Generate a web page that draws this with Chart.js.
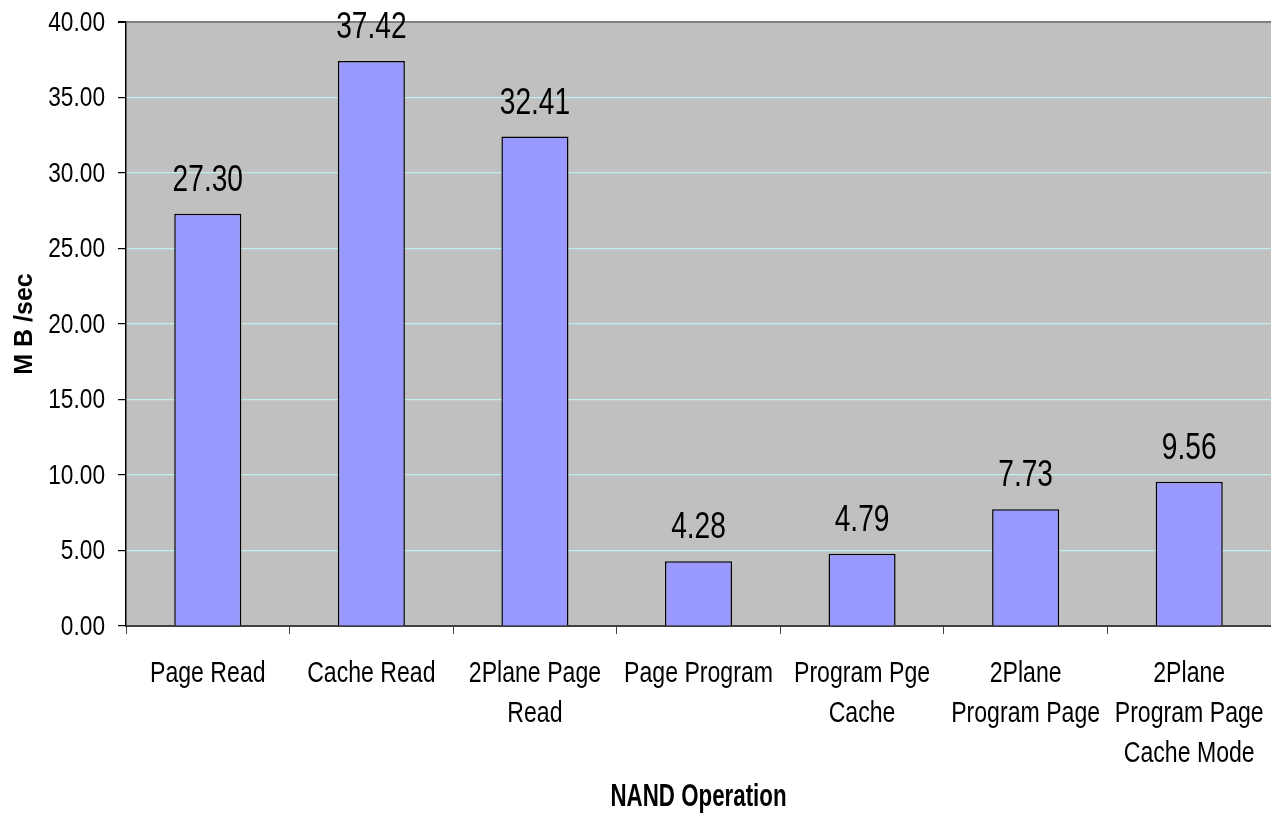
<!DOCTYPE html>
<html>
<head>
<meta charset="utf-8">
<script src="https://cdn.jsdelivr.net/npm/chart.js@4.4.1/dist/chart.umd.min.js"></script>
<style>
html,body{margin:0;padding:0;background:#fff;}
#wrap{width:1271px;height:824px;position:relative;}
</style>
</head>
<body>
<div id="wrap"><canvas id="c" width="1271" height="824"></canvas></div>
<script>
const categories = [
  "Page Read",
  "Cache Read",
  ["2Plane Page", "Read"],
  "Page Program",
  ["Program Pge", "Cache"],
  ["2Plane", "Program Page"],
  ["2Plane", "Program Page", "Cache Mode"]
];
const throughput = [27.30, 37.42, 32.41, 4.28, 4.79, 7.73, 9.56];
const yTicks = [0, 5, 10, 15, 20, 25, 30, 35, 40];
const xTitle = 'NAND Operation';
const yTitle = 'M B /sec';

const SANS = '"Liberation Sans", Arial, sans-serif';

// draw text horizontally condensed (Arial Narrow look)
function narrowText(ctx, text, x, y, sx, align) {
  ctx.save();
  ctx.translate(x, y);
  ctx.scale(sx, 1);
  ctx.textAlign = align;
  ctx.fillText(text, 0, 0);
  ctx.restore();
}

const bgPlugin = {
  id: 'bg',
  beforeDraw(chart) {
    const {ctx, chartArea: a} = chart;
    ctx.save();
    ctx.fillStyle = '#C0C0C0';
    ctx.fillRect(a.left, a.top, a.right - a.left, a.bottom - a.top);
    ctx.restore();
  }
};

const textPlugin = {
  id: 'texts',
  afterDraw(chart) {
    const {ctx} = chart;
    const xs = chart.scales.x, ys = chart.scales.y;
    ctx.save();
    ctx.fillStyle = '#000';

    // y tick labels
    ctx.font = '28px ' + SANS;
    ctx.textBaseline = 'middle';
    yTicks.forEach(v => {
      narrowText(ctx, v.toFixed(2), 105, ys.getPixelForValue(v) + 1, 0.81, 'right');
    });

    // x tick labels
    ctx.font = '30px ' + SANS;
    ctx.textBaseline = 'alphabetic';
    categories.forEach((lab, i) => {
      const lines = Array.isArray(lab) ? lab : [lab];
      const x = xs.getPixelForTick(i);
      lines.forEach((ln, k) => {
        narrowText(ctx, ln, x, 682 + 40 * k, 0.77, 'center');
      });
    });

    // value labels
    const meta = chart.getDatasetMeta(0);
    ctx.font = '37px ' + SANS;
    meta.data.forEach((bar, i) => {
      narrowText(ctx, throughput[i].toFixed(2), bar.x, bar.y - 23, 0.76, 'center');
    });

    // x title
    ctx.font = 'bold 31px ' + SANS;
    narrowText(ctx, xTitle, (chart.chartArea.left + chart.chartArea.right) / 2, 806, 0.72, 'center');

    // y title
    ctx.save();
    ctx.font = 'bold 25px ' + SANS;
    ctx.translate(25, (chart.chartArea.top + chart.chartArea.bottom) / 2);
    ctx.rotate(-Math.PI / 2);
    ctx.textAlign = 'center';
    ctx.textBaseline = 'middle';
    ctx.fillText(yTitle, 0, 0);
    ctx.restore();

    ctx.restore();
  }
};

new Chart(document.getElementById('c'), {
  type: 'bar',
  data: {
    labels: categories,
    datasets: [{
      data: throughput,
      backgroundColor: '#9999FF',
      borderColor: '#000000',
      borderWidth: 1.5,
      barPercentage: 0.41,
      categoryPercentage: 1.0
    }]
  },
  options: {
    responsive: false,
    animation: false,
    layout: {padding: {top: 22, right: 0, left: 0, bottom: 0}},
    plugins: {
      legend: {display: false},
      tooltip: {enabled: false}
    },
    scales: {
      x: {
        offset: true,
        afterFit(s) { s.height = 198; s.paddingLeft = 0; s.paddingRight = 0; },
        grid: {
          offset: true,
          drawOnChartArea: false,
          drawTicks: true,
          tickLength: 8,
          color: '#404040',
          lineWidth: 1
        },
        border: {display: true, color: '#404040', width: 2},
        ticks: {display: false, autoSkip: false},
        title: {display: false}
      },
      y: {
        min: 0,
        max: 40,
        afterFit(s) { s.width = 126; s.paddingTop = 0; s.paddingBottom = 0; },
        afterBuildTicks(s) { s.ticks = yTicks.map(v => ({value: v})); },
        grid: {
          drawTicks: true,
          tickLength: 8,
          color: ctx => {
            const v = ctx.tick ? ctx.tick.value : null;
            if (v === 40) return '#808080';
            if (v === 0) return 'rgba(0,0,0,0)';
            return '#BFEFEF';
          },
          tickColor: '#000',
          lineWidth: ctx => (ctx.tick && ctx.tick.value === 40) ? 2 : 1.2
        },
        border: {display: true, color: '#000', width: 1.5},
        ticks: {display: false},
        title: {display: false}
      }
    }
  },
  plugins: [bgPlugin, textPlugin]
});
</script>
</body>
</html>
